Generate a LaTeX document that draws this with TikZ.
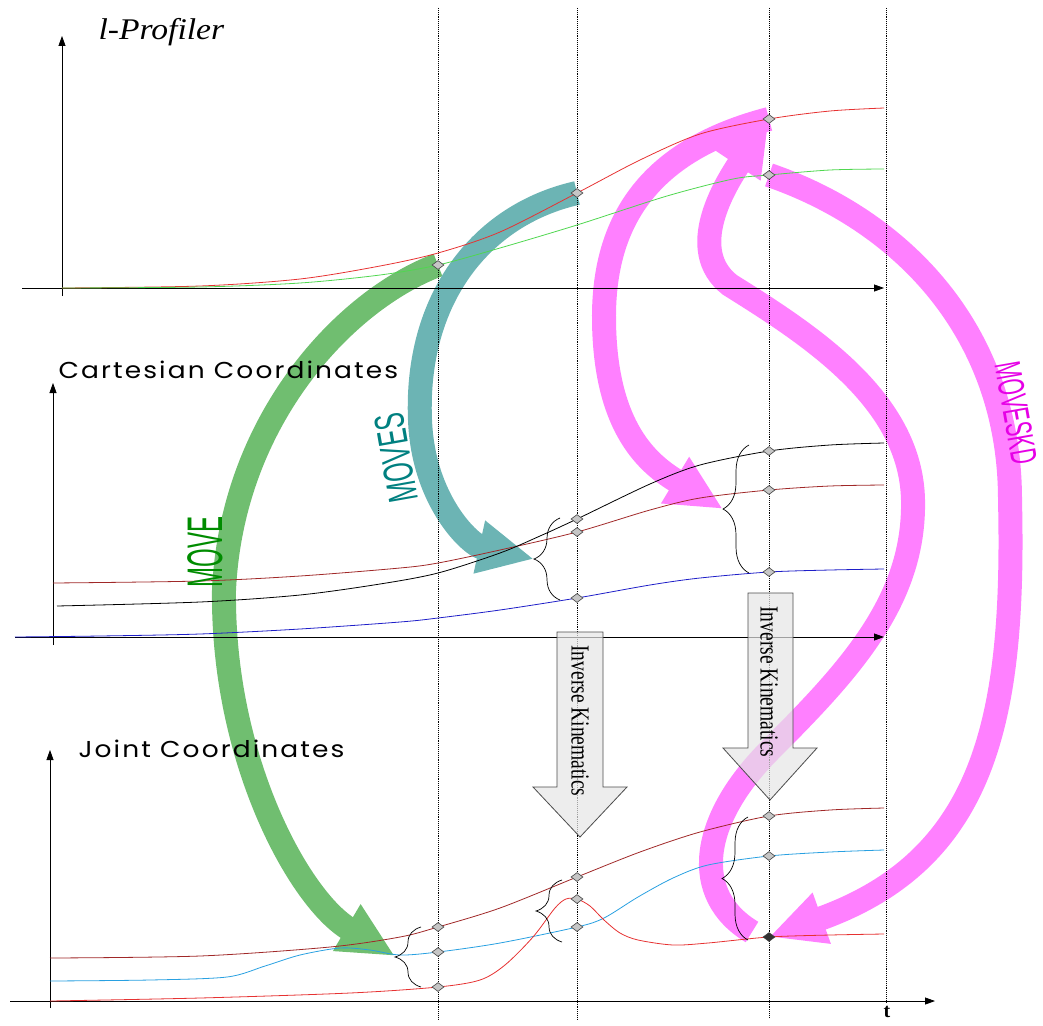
\documentclass[tikz,border=0pt]{standalone}
\usepackage{fontspec}
\setmainfont{Liberation Serif}
\newfontfamily\axisfont[LetterSpace=8]{Poppins}
\newfontfamily\movefont{Liberation Sans}
\usepackage{tikz}
\usetikzlibrary{arrows.meta,shapes.geometric,decorations.pathreplacing}
\pgfdeclarelayer{back}
\pgfdeclarelayer{mid}
\pgfsetlayers{back,mid,main}

\definecolor{movegreen}{RGB}{112,190,112}
\definecolor{moveteal}{RGB}{108,180,180}
\definecolor{movepink}{RGB}{255,128,255}
\definecolor{profred}{RGB}{230,50,50}
\definecolor{profgreen}{RGB}{80,215,80}
\definecolor{darkred}{RGB}{160,40,40}
\definecolor{cartblue}{RGB}{30,30,200}
\definecolor{jointblue}{RGB}{40,160,225}
\definecolor{kdtext}{RGB}{230,0,230}
\newcommand{\shaft}{24pt}

\tikzset{
  knot/.style={diamond, draw=black!75, fill=gray!45, line width=0.6pt, inner sep=0pt,
               minimum width=12pt, minimum height=9pt},
  timeline/.style={densely dotted, line width=0.9pt},
  axis/.style={line width=0.8pt, -{Triangle[length=10pt,width=7pt]}},
  curve/.style={line width=0.8pt},
  bracket/.style={decorate, decoration={brace, amplitude=26pt}, line width=0.7pt},
  movearrow/.style={line width=\shaft, -{Triangle[length=56pt,width=50pt]}},
  ikbox/.style={draw=black!70, fill=gray!20, fill opacity=0.7, line width=0.8pt},
  iktext/.style={rotate=-90, font=\fontsize{26}{26}\selectfont},
  title/.style={anchor=base west, font=\axisfont\fontsize{23}{23}\selectfont},
}

\begin{document}
\begin{tikzpicture}[x=1pt, y=-1pt]
\useasboundingbox (0,0) rectangle (1043,1025);

%Knots, l-Profiler
\node[knot] (pg1) at (438,265) {};
\node[knot] (pr2) at (577,193) {};
\node[knot] (pr3) at (769,119) {};
\node[knot] (pg3) at (769,175) {};
%Knots, Cartesian
\node[knot] (ck2) at (577,519) {};
\node[knot] (cr2) at (577,532) {};
\node[knot] (cb2) at (577,598) {};
\node[knot] (ck3) at (769,451) {};
\node[knot] (cr3) at (769,490) {};
\node[knot] (cb3) at (769,572) {};
%Knots, Joint
\node[knot] (jr1) at (438,927) {};
\node[knot] (jb1) at (438,952) {};
\node[knot] (jq1) at (438,987) {};
\node[knot] (jr2) at (577,877) {};
\node[knot] (jq2) at (577,899) {};
\node[knot] (jb2) at (577,927) {};
\node[knot] (jr3) at (769,816) {};
\node[knot] (jb3) at (769,856) {};
\node[knot, fill=black!80] (jq3) at (769,937) {};

%Braces
\draw[bracket] (560,600) -- (560,518);
\draw[bracket] (749,573) -- (749,445);
\draw[bracket] (421,987) -- (421,927);
\draw[bracket] (562,942) -- (562,880);
\draw[bracket] (748,940) -- (748,817);
\coordinate (ctip2) at (534,559);
\coordinate (ctip3) at (723,509);
\coordinate (jtip1) at (395,956);
\coordinate (mtail) at (752,932);

%Commands
\begin{pgfonlayer}{back}
    \draw[movearrow, movegreen] (pg1.center) .. controls (345,300) and (232,420) .. (224,590)
        .. controls (222,760) and (300,900) .. (jtip1);
    \draw[movearrow, moveteal] (pr2.center) .. controls (480,215) and (415,300) .. (420,420)
        .. controls (423,500) and (470,545) .. (ctip2);
    \draw[movearrow, movepink] (pr3.center) .. controls (650,150) and (603,220) .. (604,320)
        .. controls (605,430) and (650,465) .. (ctip3);
    \draw[movearrow, movepink] (mtail) .. controls (690,895) and (700,820) .. (770,750)
        .. controls (850,670) and (915,600) .. (913,500)
        .. controls (911,400) and (810,335) .. (730,285)
        .. controls (685,250) and (725,185) .. (pr3.center);
    \draw[movearrow, movepink] (pg3.center) .. controls (900,220) and (1010,330) .. (1010,500)
        .. controls (1015,720) and (985,860) .. (jq3.center);
\end{pgfonlayer}

\begin{pgfonlayer}{mid}
    \foreach \x/\e in {438/1020,577/1020,769/1018,886/1003} {
        \draw[timeline] (\x,8) -- (\x,\e);
    }
    %Axes
    \draw[axis] (22,288) -- (884,288);
    \draw[axis] (62,296) -- (62,36);
    \draw[axis] (15,637) -- (884,637);
    \draw[axis] (53,645) -- (53,383);
    \draw[axis] (10,1001) -- (935,1001);
    \draw[axis] (50,1008) -- (50,750);

    %l-Profiler curves
    \draw[curve, profred] plot[smooth] coordinates {(62,288) (200,286) (300,279) (380,266)
        (438,253) (500,232) (pr2.center) (640,160) (700,134) (pr3.center) (830,111) (884,108)};
    \draw[curve, profgreen] plot[smooth] coordinates {(62,288) (200,287) (300,283) (380,275)
        (pg1.center) (500,248) (577,225) (667,196) (733,179) (pg3.center) (830,170) (884,169)};

    %Cartesian curves
    \draw[curve, darkred] plot[smooth] coordinates {(53,583) (200,581) (300,576) (400,568)
        (438,563) (500,550) (cr2.center) (650,510) (700,498) (cr3.center) (830,486) (884,485)};
    \draw[curve, black] plot[smooth] coordinates {(57,606) (200,602) (300,595) (380,584)
        (438,573) (500,553) (540,536) (ck2.center) (650,484) (700,465) (ck3.center) (830,445) (884,443)};
    \draw[curve, cartblue] plot[smooth] coordinates {(15,637) (100,636) (200,634) (300,629)
        (400,622) (438,618) (500,610) (cb2.center) (650,585) (700,578) (cb3.center) (830,570) (884,569)};

    %Joint curves
    \draw[curve, darkred] plot[smooth] coordinates {(50,958) (200,956) (330,947) (400,937)
        (jr1.center) (500,908) (jr2.center) (640,852) (700,832) (jr3.center) (830,810) (884,808)};
    \draw[curve, jointblue] plot[smooth] coordinates {(50,981) (150,980) (227,977) (265,966)
        (300,955) (340,948) (370,950) (400,955) (jb1.center) (500,943) (jb2.center) (604,918)
        (638,897) (673,878) (708,865) (jb3.center) (830,852) (884,850)};
    \draw[curve, profred] plot[smooth] coordinates {(50,1001) (200,998) (350,993) (jq1.center)
        (480,980) (505,965) (533,937) (555,908) (566,899) (jq2.center) (590,906) (604,920)
        (620,933) (638,940) (673,945) (708,943) (jq3.center) (830,935) (884,934)};
\end{pgfonlayer}

%Inverse kinematics
\draw[ikbox] (557,632) -- (603,632) -- (603,787) -- (627,787) -- (580,837) -- (533,787) -- (557,787) -- cycle;
\node[iktext] (ik1) at (580,721) {\scalebox{0.75}[1]{Inverse Kinematics}};
\draw[ikbox] (748,593) -- (793,593) -- (793,748) -- (817,748) -- (770,800) -- (723,748) -- (748,748) -- cycle;
\node[iktext] (ik2) at (769,682) {\scalebox{0.75}[1]{Inverse Kinematics}};

%Titles
\node[anchor=base west, font=\itshape\fontsize{30}{30}\selectfont] (lprof) at (95,40) {\scalebox{1.12}[1]{l-Profiler}};
\node[title] (cart) at (55,378) {\scalebox{1.15}[1]{Cartesian Coordinates}};
\node[title] (joint) at (75,757) {\scalebox{1.15}[1]{Joint Coordinates}};
\node[font=\bfseries\fontsize{20}{20}\selectfont] (tlabel) at (887,1012) {t};

%Command names
\node[rotate=90, text=green!55!black, font=\movefont\fontsize{50}{50}\selectfont] (move) at (205,552) {\scalebox{0.48}[1]{MOVE}};
\node[rotate=100, text=teal, font=\movefont\fontsize{42}{42}\selectfont] (moves) at (396,458) {\scalebox{0.59}[1]{MOVES}};
\node[rotate=-80, text=kdtext, font=\movefont\fontsize{37}{37}\selectfont] (moveskd) at (1016,413) {\scalebox{0.56}[1]{MOVESKD}};
\end{tikzpicture}
\end{document}
